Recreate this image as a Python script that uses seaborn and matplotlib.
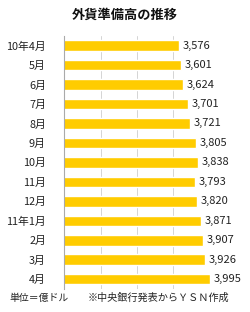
import matplotlib
matplotlib.use("Agg")
import matplotlib.pyplot as plt
import seaborn as sns
import pandas as pd

months = ["10年4月", "5月", "6月", "7月", "8月", "9月", "10月", "11月", "12月",
          "11年1月", "2月", "3月", "4月"]
values = [3576, 3601, 3624, 3701, 3721, 3805, 3838, 3793, 3820, 3871, 3907, 3926, 3995]
title = "外貨準備高の推移"
unit_note = "単位＝億ドル"
source_note = "※中央銀行発表からＹＳＮ作成"

sns.set_theme(style="white")
plt.rcParams['font.family'] = ['Noto Sans CJK JP', 'DejaVu Sans']

df = pd.DataFrame({"month": months, "value": values})

fig = plt.figure(figsize=(2.5, 3.12), dpi=100)
ax = fig.add_axes([0.256, 0.074, 0.584, 0.811])

sns.barplot(data=df, y="month", x="value", orient="h", color="#FFCC00",
            saturation=1, width=0.54, ax=ax, order=months)

ax.set_xlim(2000, 4000)
ax.set_ylim(12.5, -0.5)
ax.set_xticks([2500, 3000, 3500, 4000])
ax.xaxis.grid(True, color="#d4d4d4", linewidth=0.7)
ax.set_axisbelow(True)
ax.tick_params(axis="x", bottom=False, labelbottom=False)
ax.tick_params(axis="y", left=False, pad=7, labelsize=7.8, labelcolor="#222222")
ax.set_xlabel("")
ax.set_ylabel("")
for s in ["top", "right", "bottom"]:
    ax.spines[s].set_visible(False)
ax.spines["left"].set_color("#aaaaaa")
ax.spines["left"].set_linewidth(0.8)

for i, v in enumerate(values):
    ax.text(v + 50, i, f"{v:,}", va="center", ha="left", fontsize=8,
            color="#222222", clip_on=False)

fig.text(0.5, 0.952, title, ha="center", va="center", fontsize=9.5,
         color="#111111", fontweight="bold")
fig.text(0.036, 0.045, unit_note, ha="left", va="center", fontsize=7.1, color="#222222")
fig.text(0.352, 0.045, source_note, ha="left", va="center", fontsize=7.3, color="#222222")

fig.savefig("out.png", dpi=100)
